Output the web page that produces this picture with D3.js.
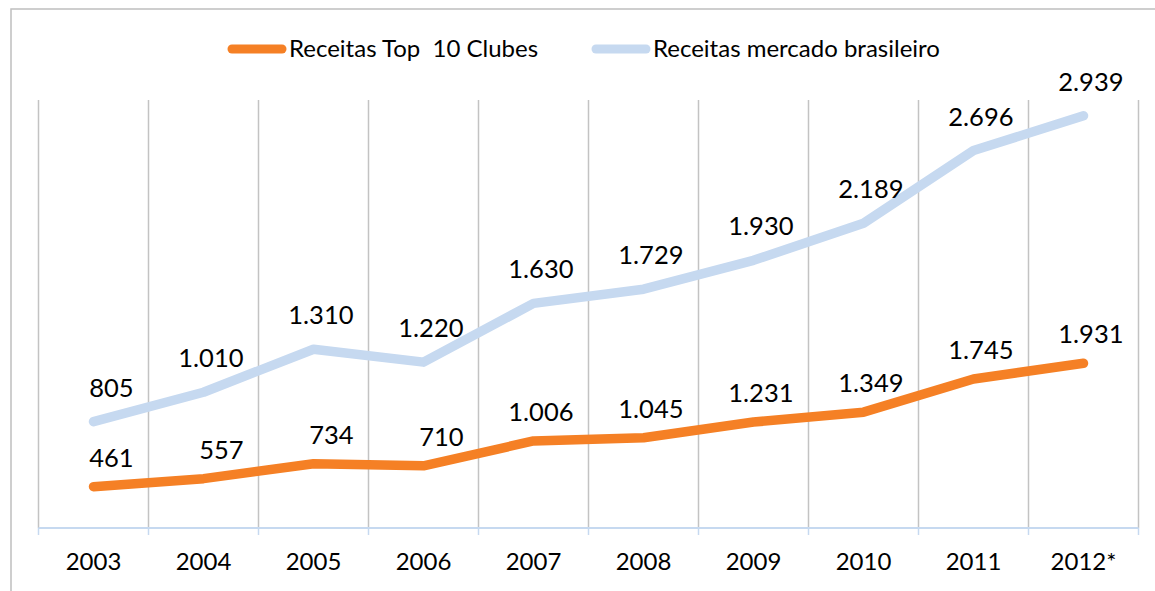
<!DOCTYPE html>
<html lang="pt">
<head>
    <meta charset="UTF-8">
    <title>Receitas Top 10 Clubes x mercado brasileiro</title>
    <script src="https://d3js.org/d3.v7.min.js"></script>
    <style>
        body { margin: 0; background: #fff; }
        svg { display: block; font-family: Lato, "Open Sans", sans-serif; }
        .grid line { stroke: #c3c3c3; stroke-width: 1.5; }
        .axis-x text { font-size: 24px; fill: #000; }
        .label { font-size: 25.5px; fill: #000; }
        .legend text { font-size: 24px; fill: #000; }
    </style>
</head>
<body>
<svg id="chart"></svg>
<script>
    // dados
    const years = ['2003', '2004', '2005', '2006', '2007', '2008', '2009', '2010', '2011', '2012*'];
    const top10 = [461, 557, 734, 710, 1006, 1045, 1231, 1349, 1745, 1931];
    const mercado = [805, 1010, 1310, 1220, 1630, 1729, 1930, 2189, 2696, 2939];
    const seriesNames = ['Receitas Top  10 Clubes', 'Receitas mercado brasileiro'];
    const seriesColors = ['#f58025', '#c6d9f0'];

    const width = 1155, height = 591;
    const axisY = 528, gridTop = 100;

    const svg = d3.select('#chart')
        .attr('width', width)
        .attr('height', height);

    // moldura (cortada a direita e embaixo, como na imagem)
    svg.append('rect')
        .attr('x', 11).attr('y', 9)
        .attr('width', 1400).attr('height', 800)
        .attr('fill', 'none')
        .attr('stroke', '#bfbfbf')
        .attr('stroke-width', 1.5);

    const x = d3.scaleBand()
        .domain(years)
        .range([38.5, 1138.5])
        .padding(0);

    // dois eixos verticais ocultos (primario e secundario)
    const yMercado = d3.scaleLinear().domain([0, 3000]).range([537, 107]);
    const yTop = d3.scaleLinear().domain([0, 5000]).range([525.4, 105.7]);

    const fmt = d3.formatLocale({ decimal: ',', thousands: '.', grouping: [3], currency: ['R$', ''] }).format(',d');

    // linhas de grade verticais nos limites das categorias
    const bounds = years.map(d => x(d)).concat([x.range()[1]]);
    const grid = svg.append('g').attr('class', 'grid');
    grid.selectAll('line')
        .data(bounds)
        .enter().append('line')
        .attr('x1', d => d).attr('x2', d => d)
        .attr('y1', gridTop).attr('y2', axisY);

    // eixo x
    svg.append('line')
        .attr('x1', x.range()[0]).attr('x2', x.range()[1])
        .attr('y1', axisY).attr('y2', axisY)
        .attr('stroke', '#c6d9f0')
        .attr('stroke-width', 2);

    svg.append('g').selectAll('line')
        .data(bounds)
        .enter().append('line')
        .attr('x1', d => d).attr('x2', d => d)
        .attr('y1', axisY).attr('y2', axisY + 7)
        .attr('stroke', '#c6d9f0')
        .attr('stroke-width', 1.5);

    const xAxis = svg.append('g')
        .attr('class', 'axis-x')
        .attr('transform', `translate(0,${axisY})`)
        .call(d3.axisBottom(x).tickSize(0));
    xAxis.select('.domain').remove();
    xAxis.selectAll('text')
        .attr('y', 42)
        .attr('dy', 0)
        .attr('fill', '#000')
        .style('font-family', 'Lato, sans-serif');

    const series = [
        { name: seriesNames[1], values: mercado, y: yMercado, color: seriesColors[1], dy: -25 },
        { name: seriesNames[0], values: top10, y: yTop, color: seriesColors[0], dy: -20 }
    ];

    series.forEach(s => {
        const line = d3.line()
            .x((d, i) => x(years[i]) + x.bandwidth() / 2)
            .y(d => s.y(d));

        svg.append('path')
            .datum(s.values)
            .attr('d', line)
            .attr('fill', 'none')
            .attr('stroke', s.color)
            .attr('stroke-width', 9.5)
            .attr('stroke-linecap', 'round')
            .attr('stroke-linejoin', 'round');

        svg.append('g').selectAll('text')
            .data(s.values)
            .enter().append('text')
            .attr('class', 'label')
            .attr('x', (d, i) => x(years[i]) + x.bandwidth() / 2 + 40)
            .attr('y', d => s.y(d) + s.dy)
            .attr('text-anchor', 'end')
            .text(d => fmt(d));
    });

    // legenda
    const legendItems = [
        { name: seriesNames[0], color: seriesColors[0], x: 228 },
        { name: seriesNames[1], color: seriesColors[1], x: 592 }
    ];
    const legend = svg.append('g').attr('class', 'legend');
    legendItems.forEach(d => {
        legend.append('line')
            .attr('x1', d.x + 4).attr('x2', d.x + 54)
            .attr('y1', 49).attr('y2', 49)
            .attr('stroke', d.color)
            .attr('stroke-width', 9)
            .attr('stroke-linecap', 'round');
        legend.append('text')
            .attr('x', d.x + 61)
            .attr('y', 57)
            .style('white-space', 'pre')
            .text(d.name);
    });
</script>
</body>
</html>
